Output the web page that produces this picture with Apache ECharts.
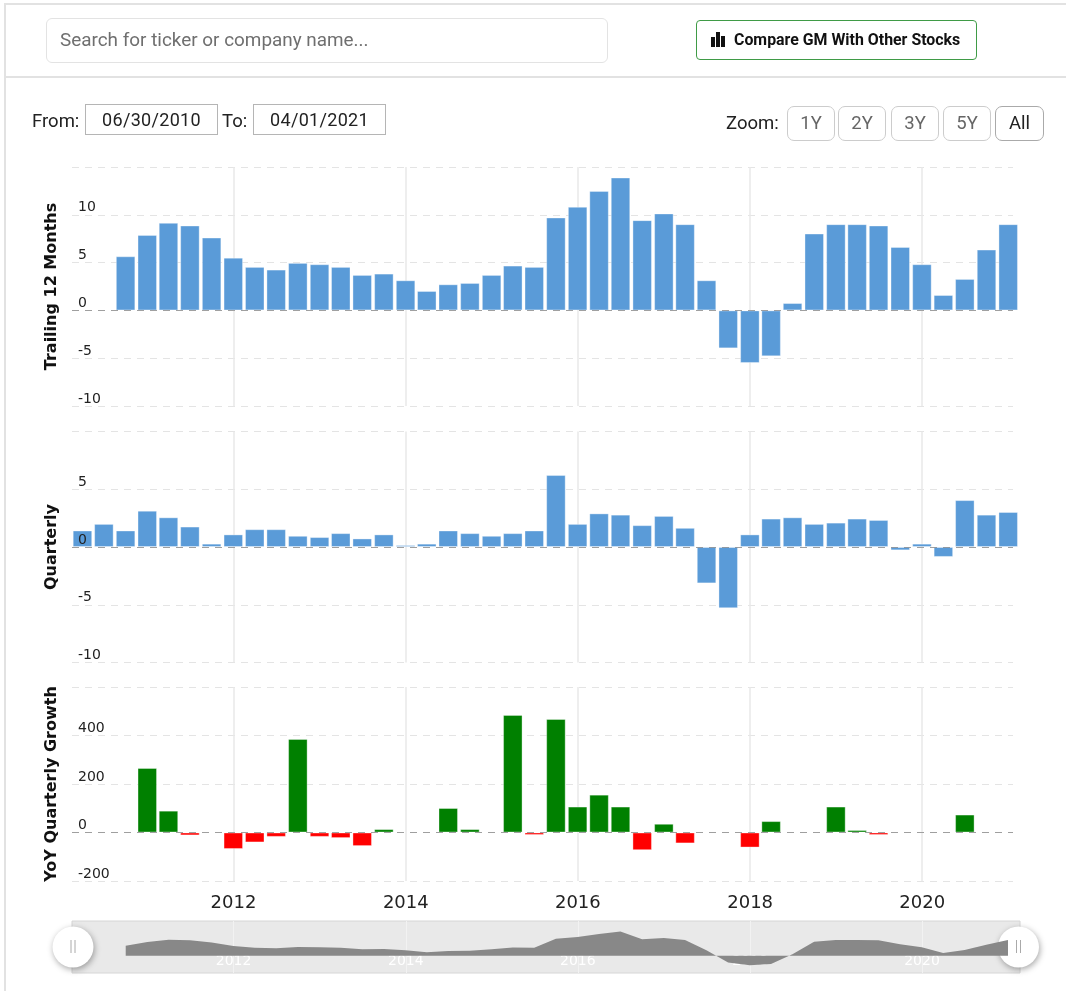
<!DOCTYPE html>
<html><head><meta charset="utf-8">
<style>
html,body{margin:0;padding:0;background:#fff;overflow:hidden}
#wrap{position:relative;width:1066px;height:991px;font-family:Roboto,sans-serif}
#chart{position:absolute;left:0;top:0;width:1066px;height:991px}
.abs{position:absolute;box-sizing:border-box}
.btn{border:1px solid #ccc;border-radius:7px;color:#666;font-size:18.5px;text-align:center;line-height:33px;top:106px;height:35px;width:48px;background:#fff}
.date{border:1px solid #b5b5b5;color:#222;font-size:18px;text-align:center;top:104px;height:31px;width:133px;line-height:30px;background:#fff;letter-spacing:.3px}
.lbl{color:#222;font-size:18.5px;line-height:24px}
</style></head><body>
<div id="wrap">
<div id="chart"></div>
<div class="abs" style="left:5px;top:3px;width:1061px;height:2px;background:#e2e2e2"></div>
<div class="abs" style="left:5px;top:76px;width:1061px;height:2px;background:#e2e2e2"></div>
<div class="abs" style="left:4px;top:3px;width:2px;height:988px;background:#e2e2e2"></div>
<div class="abs" style="left:46px;top:18px;width:562px;height:45px;border:1px solid #e3e3e3;border-radius:6px;font-size:18.9px;line-height:42px;padding-left:13px;color:#6f6f6f">Search for ticker or company name...</div>
<div class="abs" style="left:696px;top:20px;width:281px;height:40px;border:1px solid #3f9b46;border-radius:4px;font-size:15.9px;font-weight:700;line-height:37px;color:#111;padding-left:37px">Compare GM With Other Stocks</div>
<div class="abs" style="left:711px;top:37px;width:4px;height:10px;background:#111"></div>
<div class="abs" style="left:716px;top:32px;width:4px;height:15px;background:#111"></div>
<div class="abs" style="left:721px;top:36px;width:4px;height:11px;background:#111"></div>
<div class="abs lbl" style="left:32px;top:109px">From:</div>
<div class="abs date" style="left:85px">06/30/2010</div>
<div class="abs lbl" style="left:222px;top:109px">To:</div>
<div class="abs date" style="left:253px">04/01/2021</div>
<div class="abs lbl" style="left:726px;top:111px">Zoom:</div>
<div class="abs btn" style="left:787px">1Y</div>
<div class="abs btn" style="left:838px">2Y</div>
<div class="abs btn" style="left:891px">3Y</div>
<div class="abs btn" style="left:943px">5Y</div>
<div class="abs btn" style="left:995px;color:#222;border-color:#aaa;width:49px">All</div>
</div>
<script src="https://cdn.jsdelivr.net/npm/echarts@6/dist/echarts.min.js"></script>
<script>
const quarters = ['2010-03-31','2010-06-30','2010-09-30','2010-12-31','2011-03-31','2011-06-30','2011-09-30','2011-12-31','2012-03-31','2012-06-30','2012-09-30','2012-12-31','2013-03-31','2013-06-30','2013-09-30','2013-12-31','2014-03-31','2014-06-30','2014-09-30','2014-12-31','2015-03-31','2015-06-30','2015-09-30','2015-12-31','2016-03-31','2016-06-30','2016-09-30','2016-12-31','2017-03-31','2017-06-30','2017-09-30','2017-12-31','2018-03-31','2018-06-30','2018-09-30','2018-12-31','2019-03-31','2019-06-30','2019-09-30','2019-12-31','2020-03-31','2020-06-30','2020-09-30','2020-12-31'];
const trailing12 = [null,null,5.66,7.9,9.16,8.88,7.62,5.52,4.55,4.27,4.97,4.83,4.55,3.71,3.85,3.15,2.03,2.73,2.87,3.71,4.69,4.55,9.72,10.84,12.5,13.9,9.44,10.14,9.02,3.15,-3.97,-5.5,-4.8,0.77,8.04,9.02,9.02,8.88,6.64,4.83,1.61,3.29,6.36,9.02];
const quarterly = [1.43,2.0,1.43,3.14,2.57,1.77,0.29,1.09,1.54,1.54,0.97,0.86,1.2,0.74,1.09,0.17,0.29,1.43,1.2,0.97,1.2,1.43,6.23,2.0,2.91,2.8,1.89,2.69,1.66,-3.15,-5.3,1.09,2.46,2.57,2.0,2.11,2.46,2.34,-0.29,0.29,-0.86,4.06,2.8,3.03];
const yoyGrowth = [null,null,null,266,90,-12,null,-68,-41,-18,386,-18,-23,-56,14,null,null,101,14,null,485,-2,468,107,156,107,-73,36,-45,null,null,-62,47,null,null,107,3,-8,null,null,null,74,null,null];
const panelNames = ['Trailing 12 Months','Quarterly','YoY Quarterly Growth'];

const tick = d => +new Date(d + 'T00:00:00Z');
const zip = a => quarters.map((q,i) => [tick(q), a[i]]);
// ECharts widens a bar-carrying time axis by the bar width, so the main range is given net of that.
const xMin = tick('2010-03-28'), xMax = tick('2020-12-10');
const navMin = tick('2010-02-14'), navMax = tick('2021-02-20');
const BLUE = '#5a9bd8', GREEN = '#008000', RED = '#ff0000';
const gridDash = {color:'#e4e4e4', type:[7,6], width:1};
const TWO_YEARS = 2*365*864e5;

const panels = [
  {top:167, height:239, min:-10, max:15, interval:5},
  {top:431.5, height:231, min:-10, max:10, interval:5},
  {top:687, height:194, min:-200, max:600, interval:200}
];
const grid = panels.map(p => ({left:72, width:941, top:p.top, height:p.height, containLabel:false}));
grid.push({left:72, width:948, top:921, height:52, show:true, backgroundColor:'#e9e9e9', borderColor:'#d6d6d6', borderWidth:1});

const xAxis = panels.map((p,i) => ({
  type:'time', gridIndex:i, min:xMin, max:xMax, splitNumber:5, minInterval:TWO_YEARS,
  axisLine:{show:false}, axisTick:{show:false},
  splitLine:{show:true, showMinLine:false, showMaxLine:false, lineStyle:{color:'#e8e8e8', width:1.5}},
  axisLabel:{show:i===2, hideOverlap:false, formatter:'{yyyy}',
    fontFamily:'DejaVu Sans', fontSize:18, color:'#222', margin:13, fontWeight:'normal'}
}));
xAxis.push({type:'time', gridIndex:3, min:navMin, max:navMax, splitNumber:5, minInterval:TWO_YEARS,
  axisLine:{show:false}, axisTick:{show:false},
  splitLine:{show:true, showMinLine:false, showMaxLine:false, lineStyle:{color:'#f2f2f2', width:1}},
  axisLabel:{show:true, inside:true, formatter:'{yyyy}',
    fontFamily:'DejaVu Sans', fontSize:14, color:'#fff', margin:5, fontWeight:'normal'}});

const yAxis = [];
panels.forEach((p,i) => {
  yAxis.push({type:'value', gridIndex:i, min:p.min, max:p.max, interval:p.interval, position:'left',
    name:panelNames[i], nameLocation:'middle', nameGap:12, nameRotate:90,
    nameTextStyle:{fontFamily:'DejaVu Sans', fontWeight:'bold', fontSize:16, color:'#111'},
    axisLine:{show:false}, axisTick:{show:false}, axisLabel:{show:false},
    splitLine:{show:true, lineStyle:gridDash}});
  yAxis.push({type:'value', gridIndex:i, min:p.min, max:p.max, interval:p.interval, position:'left', z:5,
    axisLine:{show:false}, axisTick:{show:false}, splitLine:{show:false},
    axisLabel:{show:true, inside:true, showMaxLabel:false, showMinLabel:true, align:'left', verticalAlign:'bottom',
      margin:6, fontFamily:'DejaVu Sans', fontSize:14, color:'#222', lineHeight:14}});
});
yAxis.push({type:'value', gridIndex:3, min:-10, max:20, show:false, splitLine:{show:false}});

const zero = {silent:true, symbol:'none', animation:false, label:{show:false},
  lineStyle:{color:'#666', opacity:.55, type:[7,6], width:1}, data:[{yAxis:0}]};
const barBase = {type:'bar', barWidth:19.5, clip:false, animation:false, markLine:zero};
const border = {borderColor:'rgba(255,255,255,0.35)', borderWidth:1};

const series = [
  {...barBase, name:panelNames[0], xAxisIndex:0, yAxisIndex:0, data:zip(trailing12), itemStyle:{color:BLUE,...border}},
  {...barBase, name:panelNames[1], xAxisIndex:1, yAxisIndex:2, data:zip(quarterly), itemStyle:{color:BLUE,...border}},
  {...barBase, name:panelNames[2], xAxisIndex:2, yAxisIndex:4, barMinHeight:2.5,
    data:zip(yoyGrowth).map(d=>({value:d, itemStyle:{color:d[1]<0?RED:GREEN,...border}}))},
  {type:'line', name:'Navigator', xAxisIndex:3, yAxisIndex:6, data:zip(trailing12), connectNulls:false, showSymbol:false,
    animation:false, lineStyle:{width:0}, areaStyle:{color:'#888', opacity:1, origin:0}, itemStyle:{color:'#888'}}
];

const handle = cx => ({type:'group', z:20, children:[
  {type:'circle', shape:{cx:cx, cy:947, r:20.5}, style:{fill:'#fff', shadowBlur:6, shadowColor:'rgba(0,0,0,.35)', shadowOffsetX:1, shadowOffsetY:2}},
  {type:'line', shape:{x1:cx-2, y1:940, x2:cx-2, y2:953}, style:{stroke:'#aaa', lineWidth:1}},
  {type:'line', shape:{x1:cx+2, y1:940, x2:cx+2, y2:953}, style:{stroke:'#aaa', lineWidth:1}}
]});

const chart = echarts.init(document.getElementById('chart'), null, {renderer:'canvas'});
chart.setOption({animation:false, backgroundColor:'#fff', grid, xAxis, yAxis, series,
  graphic:[handle(73), handle(1018.5)]});
</script>
</body></html>
